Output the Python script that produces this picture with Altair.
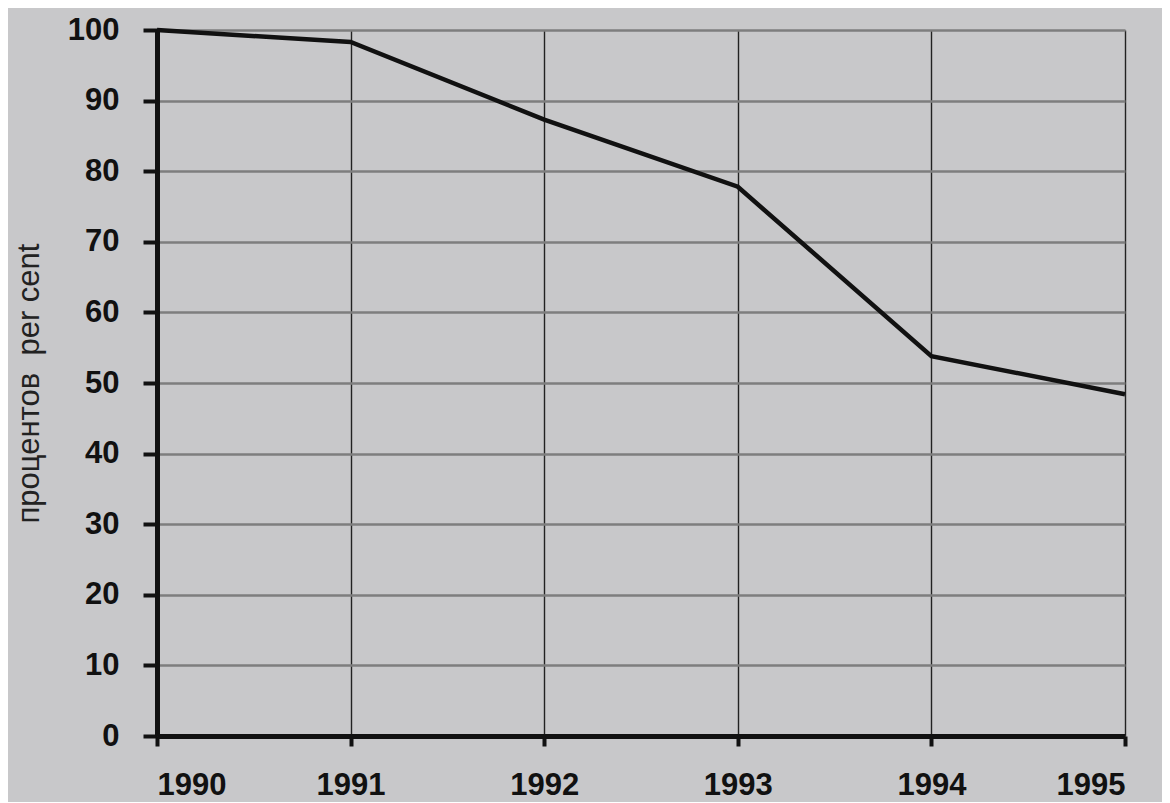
import altair as alt
import pandas as pd

years = [1990, 1991, 1992, 1993, 1994, 1995]
values = [100, 98.3, 87.3, 77.8, 53.8, 48.4]
y_ticks = [0, 10, 20, 30, 40, 50, 60, 70, 80, 90, 100]
y_title = "процентов\u00a0\u00a0per cent"

df = pd.DataFrame({"year": years, "value": values})

line = alt.Chart(df).mark_line(color="#111111", strokeWidth=4.5, strokeJoin="miter").encode(
    x=alt.X("year:Q",
            scale=alt.Scale(domain=[1990, 1995], nice=False, zero=False),
            axis=alt.Axis(values=years, format="d", title=None,
                          labelFontSize=31, labelFontWeight="bold",
                          labelFont="Liberation Sans", labelColor="#111111",
                          labelPadding=24, tickSize=10, tickWidth=4, tickColor="#111111",
                          domainColor="#111111", domainWidth=5,
                          grid=True, gridColor="#222222", gridWidth=1.4)),
    y=alt.Y("value:Q",
            scale=alt.Scale(domain=[0, 100], nice=False),
            axis=alt.Axis(values=y_ticks, title=y_title,
                          titleFontSize=31, titleFontWeight="normal",
                          titleFont="Liberation Sans", titleColor="#222222",
                          titlePadding=22,
                          labelFontSize=31, labelFontWeight="bold",
                          labelFont="Liberation Sans", labelColor="#111111",
                          labelPadding=24, tickSize=14, tickWidth=4, tickColor="#111111",
                          domainColor="#111111", domainWidth=5,
                          grid=True, gridColor="#7e7e7e", gridWidth=2.5)),
)

chart = line.properties(
    width=968, height=706,
    autosize=alt.AutoSizeParams(type="none"),
    padding={"left": 149, "top": 22, "right": 37, "bottom": 66},
    background="#c8c8ca",
).configure_view(stroke=None)

chart.save("out.html", embed_options={"renderer": "svg", "actions": False})
